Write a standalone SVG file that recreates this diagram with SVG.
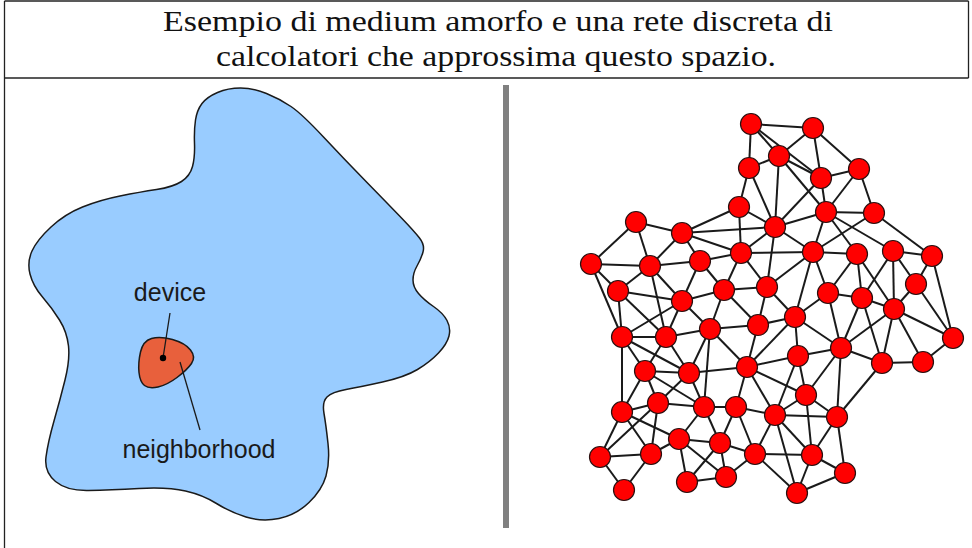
<svg xmlns="http://www.w3.org/2000/svg" width="972" height="548" viewBox="0 0 972 548">
<style>
.frame{stroke:#222;stroke-width:1.3;fill:none}
.title{font-family:"Liberation Serif","DejaVu Serif",serif;font-size:29px;fill:#111;text-anchor:middle}
.lbl{font-family:"Liberation Sans",Arial,sans-serif;font-size:25px;fill:#1a1a1a;text-anchor:middle}
.e line{stroke:#1a1a1a;stroke-width:2}
.n{fill:#ff0000;stroke:#2a1010;stroke-width:1.2}
</style>
<rect width="972" height="548" fill="#fff"/>
<g id="frame">
<line class="frame" x1="4.5" y1="1" x2="968.5" y2="1"/>
<line class="frame" x1="4.5" y1="1" x2="4.5" y2="548"/>
<line class="frame" x1="968.5" y1="1" x2="968.5" y2="78"/>
<line class="frame" x1="4.5" y1="78" x2="968.5" y2="78"/>
</g>
<g id="caption">
<text class="title" x="498" y="31" textLength="670" lengthAdjust="spacingAndGlyphs">Esempio di medium amorfo e una rete discreta di</text>
<text class="title" x="496" y="66" textLength="560" lengthAdjust="spacingAndGlyphs">calcolatori che approssima questo spazio.</text>
</g>
<g id="medium">
<path d="M195.5,120 Q197,110 202,103.5 Q207,97 217.5,92.5 Q228,88 240.5,88 Q253,88 266.5,93.5 Q280,99 291,106.5 Q302,114 323.5,137 Q345,160 367.5,183 Q390,206 402,218.5 Q414,231 419.5,238 Q425,245 423,252 Q421,259 417,266 Q413,273 413,280 Q413,287 418.5,293.5 Q424,300 433.5,306.5 Q443,313 447,320.5 Q451,328 449,336 Q447,344 438.5,353 Q430,362 417.5,369.5 Q405,377 382.5,382 Q360,387 346,389.5 Q332,392 327,397 Q322,402 324,413.5 Q326,425 328,443.5 Q330,462 326,476 Q322,490 309,502.5 Q296,515 279,518.5 Q262,522 246,517 Q230,512 216.5,503.5 Q203,495 185.5,491 Q168,487 139,488.5 Q110,490 88.5,490.5 Q67,491 55.5,481.5 Q44,472 46,457 Q48,442 54,421 Q60,400 65,380 Q70,360 68.5,346 Q67,332 59.5,320 Q52,308 42.5,297 Q33,286 30,274 Q27,262 32,251 Q37,240 51,227 Q65,214 82.5,207 Q100,200 120,196 Q140,192 156.5,189.5 Q173,187 181.5,181.5 Q190,176 192.5,166.5 Q195,157 194.5,143.5 Q194,130 195.5,120 Z" fill="#99ccff" stroke="#1a1a1a" stroke-width="1.5"/>
</g>
<g id="neighborhood">
<path d="M139,372.5 Q138,363 140.5,352 Q143,341 151.5,338.5 Q160,336 172.5,339.5 Q185,343 190.5,350 Q196,357 191.5,363.5 Q187,370 177,377.5 Q167,385 158,387 Q149,389 144.5,385.5 Q140,382 139,372.5 Z" fill="#e8603c" stroke="#1a1a1a" stroke-width="1.5"/>
<line x1="180" y1="362" x2="200" y2="430" stroke="#1a1a1a" stroke-width="1.3"/>
<text class="lbl" x="199" y="458">neighborhood</text>
</g>
<g id="device">
<line x1="163" y1="358" x2="170" y2="313" stroke="#1a1a1a" stroke-width="1.3"/>
<circle cx="163" cy="358" r="3.2" fill="#000"/>
<text class="lbl" x="170" y="301">device</text>
</g>
<g id="divider">
<rect x="503" y="85" width="6" height="443" fill="#808080"/>
</g>
<g id="connectors" class="e">
<line x1="751" y1="124" x2="813" y2="128"/><line x1="751" y1="124" x2="779" y2="156"/><line x1="751" y1="124" x2="749" y2="168"/><line x1="751" y1="124" x2="821" y2="178"/>
<line x1="813" y1="128" x2="779" y2="156"/><line x1="813" y1="128" x2="821" y2="178"/><line x1="813" y1="128" x2="859" y2="169"/>
<line x1="779" y1="156" x2="749" y2="168"/><line x1="779" y1="156" x2="821" y2="178"/><line x1="779" y1="156" x2="826" y2="212"/><line x1="779" y1="156" x2="775" y2="227"/>
<line x1="749" y1="168" x2="739" y2="207"/><line x1="749" y1="168" x2="775" y2="227"/>
<line x1="821" y1="178" x2="859" y2="169"/><line x1="821" y1="178" x2="826" y2="212"/><line x1="821" y1="178" x2="775" y2="227"/>
<line x1="859" y1="169" x2="826" y2="212"/><line x1="859" y1="169" x2="874" y2="213"/>
<line x1="739" y1="207" x2="682" y2="233"/><line x1="739" y1="207" x2="775" y2="227"/><line x1="739" y1="207" x2="741" y2="253"/>
<line x1="826" y1="212" x2="874" y2="213"/><line x1="826" y1="212" x2="775" y2="227"/><line x1="826" y1="212" x2="813" y2="252"/><line x1="826" y1="212" x2="857" y2="254"/><line x1="826" y1="212" x2="893" y2="251"/>
<line x1="874" y1="213" x2="813" y2="252"/><line x1="874" y1="213" x2="932" y2="256"/>
<line x1="636" y1="222" x2="682" y2="233"/><line x1="636" y1="222" x2="591" y2="264"/><line x1="636" y1="222" x2="650" y2="266"/>
<line x1="682" y1="233" x2="775" y2="227"/><line x1="682" y1="233" x2="650" y2="266"/><line x1="682" y1="233" x2="700" y2="261"/><line x1="682" y1="233" x2="741" y2="253"/>
<line x1="775" y1="227" x2="741" y2="253"/><line x1="775" y1="227" x2="813" y2="252"/><line x1="775" y1="227" x2="767" y2="287"/>
<line x1="591" y1="264" x2="650" y2="266"/><line x1="591" y1="264" x2="618" y2="291"/><line x1="591" y1="264" x2="622" y2="337"/>
<line x1="650" y1="266" x2="700" y2="261"/><line x1="650" y1="266" x2="618" y2="291"/><line x1="650" y1="266" x2="682" y2="301"/><line x1="650" y1="266" x2="666" y2="337"/>
<line x1="700" y1="261" x2="741" y2="253"/><line x1="700" y1="261" x2="682" y2="301"/><line x1="700" y1="261" x2="724" y2="290"/>
<line x1="741" y1="253" x2="813" y2="252"/><line x1="741" y1="253" x2="724" y2="290"/><line x1="741" y1="253" x2="767" y2="287"/>
<line x1="813" y1="252" x2="857" y2="254"/><line x1="813" y1="252" x2="767" y2="287"/><line x1="813" y1="252" x2="828" y2="293"/><line x1="813" y1="252" x2="795" y2="317"/>
<line x1="857" y1="254" x2="828" y2="293"/><line x1="857" y1="254" x2="862" y2="298"/><line x1="857" y1="254" x2="894" y2="309"/>
<line x1="893" y1="251" x2="932" y2="256"/><line x1="893" y1="251" x2="916" y2="284"/><line x1="893" y1="251" x2="894" y2="309"/><line x1="893" y1="251" x2="862" y2="298"/>
<line x1="932" y1="256" x2="916" y2="284"/><line x1="932" y1="256" x2="953" y2="338"/>
<line x1="618" y1="291" x2="682" y2="301"/><line x1="618" y1="291" x2="622" y2="337"/><line x1="618" y1="291" x2="666" y2="337"/>
<line x1="682" y1="301" x2="724" y2="290"/><line x1="682" y1="301" x2="622" y2="337"/><line x1="682" y1="301" x2="666" y2="337"/><line x1="682" y1="301" x2="710" y2="329"/>
<line x1="724" y1="290" x2="767" y2="287"/><line x1="724" y1="290" x2="710" y2="329"/><line x1="724" y1="290" x2="758" y2="325"/>
<line x1="767" y1="287" x2="758" y2="325"/><line x1="767" y1="287" x2="795" y2="317"/>
<line x1="828" y1="293" x2="862" y2="298"/><line x1="828" y1="293" x2="795" y2="317"/><line x1="828" y1="293" x2="841" y2="348"/>
<line x1="862" y1="298" x2="894" y2="309"/><line x1="862" y1="298" x2="841" y2="348"/><line x1="862" y1="298" x2="882" y2="363"/>
<line x1="916" y1="284" x2="894" y2="309"/><line x1="916" y1="284" x2="953" y2="338"/>
<line x1="894" y1="309" x2="953" y2="338"/><line x1="894" y1="309" x2="841" y2="348"/><line x1="894" y1="309" x2="882" y2="363"/><line x1="894" y1="309" x2="923" y2="362"/>
<line x1="622" y1="337" x2="666" y2="337"/><line x1="622" y1="337" x2="645" y2="371"/><line x1="622" y1="337" x2="689" y2="373"/><line x1="622" y1="337" x2="622" y2="412"/>
<line x1="666" y1="337" x2="710" y2="329"/><line x1="666" y1="337" x2="645" y2="371"/><line x1="666" y1="337" x2="689" y2="373"/>
<line x1="710" y1="329" x2="758" y2="325"/><line x1="710" y1="329" x2="689" y2="373"/><line x1="710" y1="329" x2="747" y2="367"/><line x1="710" y1="329" x2="704" y2="407"/>
<line x1="758" y1="325" x2="795" y2="317"/><line x1="758" y1="325" x2="747" y2="367"/>
<line x1="795" y1="317" x2="841" y2="348"/><line x1="795" y1="317" x2="747" y2="367"/><line x1="795" y1="317" x2="798" y2="356"/>
<line x1="953" y1="338" x2="923" y2="362"/>
<line x1="841" y1="348" x2="882" y2="363"/><line x1="841" y1="348" x2="798" y2="356"/><line x1="841" y1="348" x2="837" y2="417"/><line x1="841" y1="348" x2="806" y2="395"/>
<line x1="882" y1="363" x2="923" y2="362"/><line x1="882" y1="363" x2="837" y2="417"/>
<line x1="645" y1="371" x2="689" y2="373"/><line x1="645" y1="371" x2="658" y2="403"/><line x1="645" y1="371" x2="704" y2="407"/><line x1="645" y1="371" x2="622" y2="412"/>
<line x1="689" y1="373" x2="747" y2="367"/><line x1="689" y1="373" x2="658" y2="403"/><line x1="689" y1="373" x2="704" y2="407"/>
<line x1="747" y1="367" x2="798" y2="356"/><line x1="747" y1="367" x2="736" y2="407"/><line x1="747" y1="367" x2="775" y2="415"/><line x1="747" y1="367" x2="806" y2="395"/>
<line x1="798" y1="356" x2="806" y2="395"/><line x1="798" y1="356" x2="775" y2="415"/>
<line x1="806" y1="395" x2="775" y2="415"/><line x1="806" y1="395" x2="837" y2="417"/><line x1="806" y1="395" x2="812" y2="455"/>
<line x1="622" y1="412" x2="658" y2="403"/><line x1="622" y1="412" x2="600" y2="457"/><line x1="622" y1="412" x2="651" y2="454"/><line x1="622" y1="412" x2="679" y2="439"/>
<line x1="658" y1="403" x2="704" y2="407"/><line x1="658" y1="403" x2="600" y2="457"/><line x1="658" y1="403" x2="651" y2="454"/>
<line x1="704" y1="407" x2="736" y2="407"/><line x1="704" y1="407" x2="679" y2="439"/><line x1="704" y1="407" x2="720" y2="443"/>
<line x1="736" y1="407" x2="775" y2="415"/><line x1="736" y1="407" x2="720" y2="443"/><line x1="736" y1="407" x2="755" y2="454"/>
<line x1="775" y1="415" x2="837" y2="417"/><line x1="775" y1="415" x2="755" y2="454"/><line x1="775" y1="415" x2="812" y2="455"/><line x1="775" y1="415" x2="797" y2="493"/>
<line x1="837" y1="417" x2="812" y2="455"/><line x1="837" y1="417" x2="845" y2="473"/>
<line x1="679" y1="439" x2="720" y2="443"/><line x1="679" y1="439" x2="651" y2="454"/><line x1="679" y1="439" x2="687" y2="482"/><line x1="679" y1="439" x2="726" y2="477"/>
<line x1="720" y1="443" x2="755" y2="454"/><line x1="720" y1="443" x2="687" y2="482"/><line x1="720" y1="443" x2="726" y2="477"/>
<line x1="755" y1="454" x2="726" y2="477"/><line x1="755" y1="454" x2="812" y2="455"/><line x1="755" y1="454" x2="797" y2="493"/>
<line x1="600" y1="457" x2="651" y2="454"/><line x1="600" y1="457" x2="624" y2="490"/>
<line x1="651" y1="454" x2="624" y2="490"/>
<line x1="687" y1="482" x2="726" y2="477"/>
<line x1="812" y1="455" x2="845" y2="473"/><line x1="812" y1="455" x2="797" y2="493"/>
<line x1="845" y1="473" x2="797" y2="493"/>
</g>
<g id="nodes">
<circle id="nA" class="n" cx="751" cy="124" r="10.5"/>
<circle id="nB" class="n" cx="813" cy="128" r="10.5"/>
<circle id="nC" class="n" cx="779" cy="156" r="10.5"/>
<circle id="nD" class="n" cx="749" cy="168" r="10.5"/>
<circle id="nE" class="n" cx="821" cy="178" r="10.5"/>
<circle id="nF" class="n" cx="859" cy="169" r="10.5"/>
<circle id="nG" class="n" cx="739" cy="207" r="10.5"/>
<circle id="nH" class="n" cx="826" cy="212" r="10.5"/>
<circle id="nI" class="n" cx="874" cy="213" r="10.5"/>
<circle id="nJ" class="n" cx="636" cy="222" r="10.5"/>
<circle id="nK" class="n" cx="682" cy="233" r="10.5"/>
<circle id="nL" class="n" cx="775" cy="227" r="10.5"/>
<circle id="nM" class="n" cx="591" cy="264" r="10.5"/>
<circle id="nN" class="n" cx="650" cy="266" r="10.5"/>
<circle id="nO" class="n" cx="700" cy="261" r="10.5"/>
<circle id="nP" class="n" cx="741" cy="253" r="10.5"/>
<circle id="nQ" class="n" cx="813" cy="252" r="10.5"/>
<circle id="nR" class="n" cx="857" cy="254" r="10.5"/>
<circle id="nS" class="n" cx="893" cy="251" r="10.5"/>
<circle id="nT" class="n" cx="932" cy="256" r="10.5"/>
<circle id="nU" class="n" cx="618" cy="291" r="10.5"/>
<circle id="nV" class="n" cx="682" cy="301" r="10.5"/>
<circle id="nW" class="n" cx="724" cy="290" r="10.5"/>
<circle id="nX" class="n" cx="767" cy="287" r="10.5"/>
<circle id="nY" class="n" cx="828" cy="293" r="10.5"/>
<circle id="nZ" class="n" cx="862" cy="298" r="10.5"/>
<circle id="nAA" class="n" cx="916" cy="284" r="10.5"/>
<circle id="nAB" class="n" cx="894" cy="309" r="10.5"/>
<circle id="nAC" class="n" cx="622" cy="337" r="10.5"/>
<circle id="nAD" class="n" cx="666" cy="337" r="10.5"/>
<circle id="nAE" class="n" cx="710" cy="329" r="10.5"/>
<circle id="nAF" class="n" cx="758" cy="325" r="10.5"/>
<circle id="nAG" class="n" cx="795" cy="317" r="10.5"/>
<circle id="nAH" class="n" cx="953" cy="338" r="10.5"/>
<circle id="nAI" class="n" cx="841" cy="348" r="10.5"/>
<circle id="nAJ" class="n" cx="882" cy="363" r="10.5"/>
<circle id="nAK" class="n" cx="923" cy="362" r="10.5"/>
<circle id="nAL" class="n" cx="645" cy="371" r="10.5"/>
<circle id="nAM" class="n" cx="689" cy="373" r="10.5"/>
<circle id="nAN" class="n" cx="747" cy="367" r="10.5"/>
<circle id="nAO" class="n" cx="798" cy="356" r="10.5"/>
<circle id="nAP" class="n" cx="806" cy="395" r="10.5"/>
<circle id="nAQ" class="n" cx="622" cy="412" r="10.5"/>
<circle id="nAR" class="n" cx="658" cy="403" r="10.5"/>
<circle id="nAS" class="n" cx="704" cy="407" r="10.5"/>
<circle id="nAT" class="n" cx="736" cy="407" r="10.5"/>
<circle id="nAU" class="n" cx="775" cy="415" r="10.5"/>
<circle id="nAV" class="n" cx="837" cy="417" r="10.5"/>
<circle id="nAW" class="n" cx="679" cy="439" r="10.5"/>
<circle id="nAX" class="n" cx="720" cy="443" r="10.5"/>
<circle id="nAY" class="n" cx="755" cy="454" r="10.5"/>
<circle id="nAZ" class="n" cx="600" cy="457" r="10.5"/>
<circle id="nBA" class="n" cx="651" cy="454" r="10.5"/>
<circle id="nBB" class="n" cx="687" cy="482" r="10.5"/>
<circle id="nBC" class="n" cx="726" cy="477" r="10.5"/>
<circle id="nBD" class="n" cx="624" cy="490" r="10.5"/>
<circle id="nBE" class="n" cx="812" cy="455" r="10.5"/>
<circle id="nBF" class="n" cx="845" cy="473" r="10.5"/>
<circle id="nBG" class="n" cx="797" cy="493" r="10.5"/>
</g>
</svg>
